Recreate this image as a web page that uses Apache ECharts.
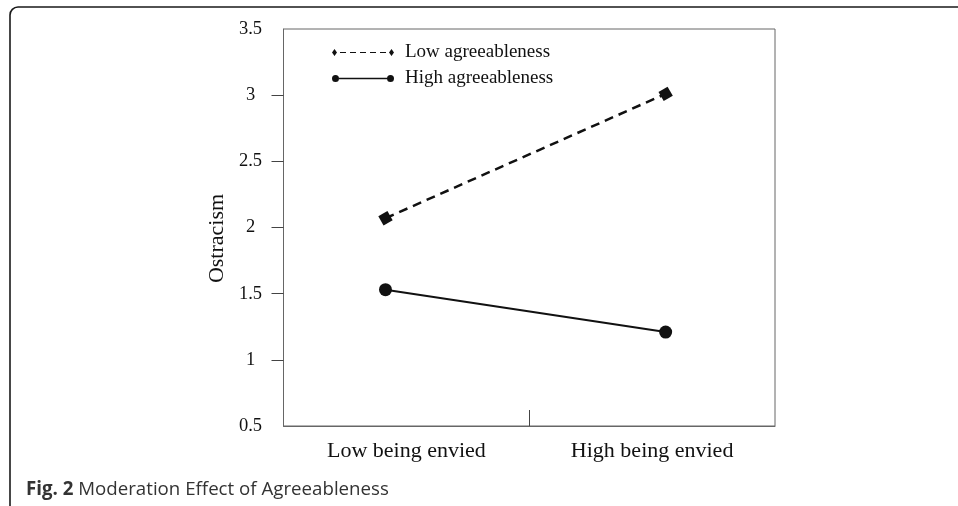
<!DOCTYPE html>
<html>
<head>
<meta charset="utf-8">
<script src="https://cdn.jsdelivr.net/npm/echarts@6/dist/echarts.min.js"></script>
<style>html,body{margin:0;padding:0;background:#fff;}#c{width:958px;height:506px;}</style>
</head>
<body>
<div id="c"></div>
<script>
// ---- data ----
const categories = ['Low being envied', 'High being envied'];
const categoryPos = [1, 3];          // label positions on the 0-4 x scale
const midTick = [2];                 // single tick between the groups
const pointX = [0.83, 3.11];         // x positions of the plotted points
const seriesNames = ['Low agreeableness', 'High agreeableness'];
const lowAgreeableness = [2.07, 3.01];
const highAgreeableness = [1.53, 1.21];
const yTickValues = [1, 1.5, 2, 2.5, 3];
const yAxisName = 'Ostracism';
const captionBold = 'Fig. 2';
const captionText = 'Moderation Effect of Agreeableness';

const serif = '"Liberation Serif", "Times New Roman", serif';
const ink = '#111';

const lowIcon = 'path://M0,3.5 L2.5,0 L5,3.5 L2.5,7 Z ' +
  'M8,3 L14,3 L14,4 L8,4 Z M18,3 L24,3 L24,4 L18,4 Z M28,3 L34,3 L34,4 L28,4 Z ' +
  'M38,3 L44,3 L44,4 L38,4 Z M48,3 L54,3 L54,4 L48,4 Z ' +
  'M57,3.5 L59.5,0 L62,3.5 L59.5,7 Z';
const highIcon = 'path://M0,3.5 A3.5,3.5 0 1,0 7,3.5 A3.5,3.5 0 1,0 0,3.5 Z ' +
  'M7,2.75 L55,2.75 L55,4.25 L7,4.25 Z ' +
  'M55,3.5 A3.5,3.5 0 1,0 62,3.5 A3.5,3.5 0 1,0 55,3.5 Z';

const chart = echarts.init(document.getElementById('c'), null, {renderer: 'canvas'});
chart.setOption({
  animation: false,
  backgroundColor: '#fff',
  title: {
    left: 26, top: 480, padding: 0,
    text: '{b|' + captionBold + '} ' + captionText,
    textStyle: {
      fontFamily: '"Open Sans", "Noto Sans", sans-serif',
      fontSize: 18.7, fontWeight: 'normal', color: '#333',
      rich: { b: { fontFamily: '"Open Sans", "Noto Sans", sans-serif', fontSize: 18.7, fontWeight: 'bold', color: '#333' } }
    }
  },
  graphic: [{
    type: 'rect', silent: true,
    shape: { x: 10, y: 7, width: 1200, height: 800, r: 8 },
    style: { fill: 'none', stroke: '#1a1a1a', lineWidth: 1.6 }
  }],
  legend: {
    orient: 'vertical', left: 332, top: 43, padding: 0,
    itemWidth: 62, itemHeight: 7, itemGap: 7,
    itemStyle: { color: ink, borderWidth: 0 },
    textStyle: { fontFamily: serif, fontSize: 19, color: ink, padding: [0, 0, 0, 6] },
    data: [
      { name: seriesNames[0], icon: lowIcon },
      { name: seriesNames[1], icon: highIcon }
    ]
  },
  grid: {
    left: 283.5, top: 29, right: 183, bottom: 80,
    show: true, borderColor: '#666', borderWidth: 1
  },
  xAxis: {
    type: 'value', min: 0, max: 4,
    axisLine: { show: true, lineStyle: { color: '#666', width: 1 } },
    axisTick: { show: true, inside: true, length: 16, customValues: midTick, lineStyle: { color: '#444', width: 1 } },
    splitLine: { show: false },
    axisLabel: {
      customValues: categoryPos,
      formatter: function (v) { const i = categoryPos.indexOf(v); return i >= 0 ? categories[i] : ''; },
      fontFamily: serif, fontSize: 22, color: ink, margin: 14
    }
  },
  yAxis: {
    type: 'value', min: 0.5, max: 3.5, interval: 0.5,
    name: yAxisName, nameLocation: 'middle', nameGap: 55, nameRotate: 90,
    nameTextStyle: { fontFamily: serif, fontSize: 22, color: ink, padding: [0, 22, 0, 0] },
    axisLine: { show: true, lineStyle: { color: '#666', width: 1 } },
    axisTick: { show: true, inside: false, length: 12, customValues: yTickValues, lineStyle: { color: '#444', width: 1 } },
    splitLine: { show: false },
    axisLabel: {
      fontFamily: serif, fontSize: 18.5, color: ink, margin: 33, align: 'center',
      formatter: function (v) { return String(v); }
    }
  },
  series: [{
    name: seriesNames[0], type: 'line',
    data: pointX.map((x, i) => [x, lowAgreeableness[i]]),
    symbol: 'rect', symbolSize: 10.5, symbolRotate: 30,
    itemStyle: { color: ink },
    lineStyle: { color: ink, width: 2.5, type: [9, 6] }
  }, {
    name: seriesNames[1], type: 'line',
    data: pointX.map((x, i) => [x, highAgreeableness[i]]),
    symbol: 'circle', symbolSize: 13,
    itemStyle: { color: ink },
    lineStyle: { color: ink, width: 2 }
  }]
});
</script>
</body>
</html>
